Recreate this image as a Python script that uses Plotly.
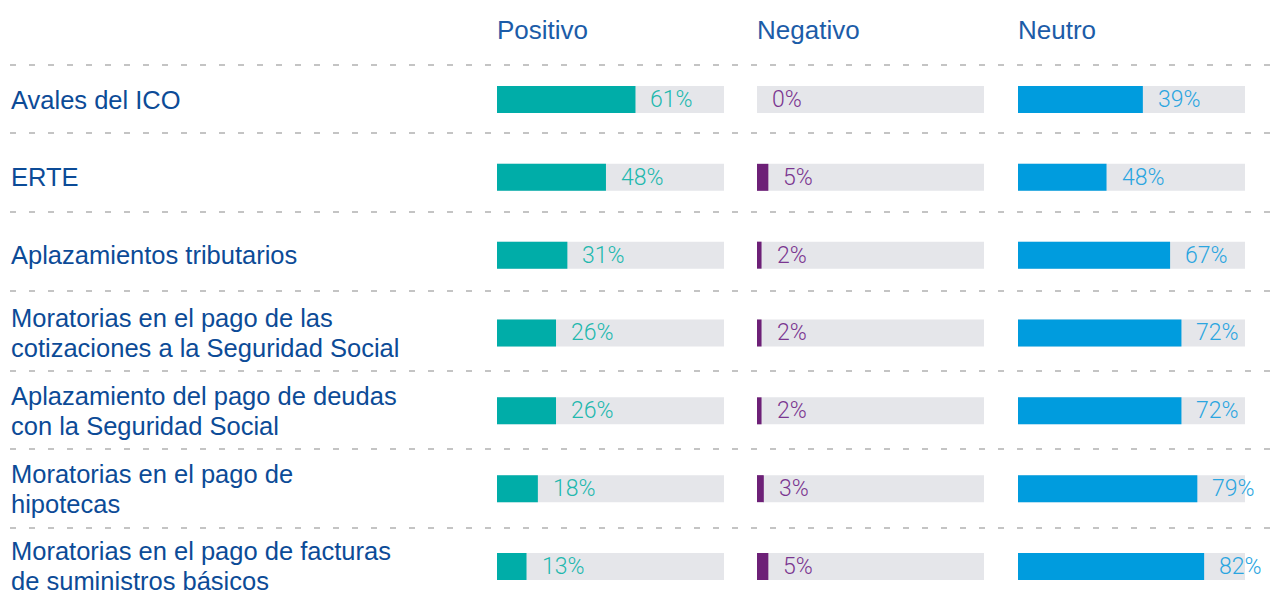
import plotly.graph_objects as go

# data
temas = [
    "Avales del ICO",
    "ERTE",
    "Aplazamientos tributarios",
    "Moratorias en el pago de las<br>cotizaciones a la Seguridad Social",
    "Aplazamiento del pago de deudas<br>con la Seguridad Social",
    "Moratorias en el pago de<br>hipotecas",
    "Moratorias en el pago de facturas<br>de suministros básicos",
]
positivo = [61, 48, 31, 26, 26, 18, 13]
negativo = [0, 5, 2, 2, 2, 3, 5]
neutro = [39, 48, 67, 72, 72, 79, 82]
# the first two neutral bars in the original are drawn at a different length than their labels
neutro_barra = [55, 39, 67, 72, 72, 79, 82]
columnas = ["Positivo", "Negativo", "Neutro"]

W, H = 1283, 602
OFF = 8                             # page body margin
ROW0, PASO = 99.5 - OFF, 77.83      # pixel centre of first row, row spacing
filas = list(range(len(temas)))

gris = "#e5e6ea"
azul_texto = "#0c4b97"
panels = [
    # (xaxis, pixel span, bar values, label values, bar colour, label colour)
    ("x", (497, 724), positivo, positivo, "#00ada8", "#22b8ae"),
    ("x2", (757, 984), negativo, negativo, "#6d2077", "#7a3590"),
    ("x3", (1018, 1245), neutro_barra, neutro, "#009cde", "#2aa5e0"),
]

fig = go.Figure()
ann = []
for xa, (p0, p1), barras, etiquetas, color, color_txt in panels:
    fig.add_trace(go.Bar(x=[100] * len(filas), y=filas, orientation="h", width=0.347,
                         marker=dict(color=gris, line_width=0), xaxis=xa, yaxis="y",
                         hoverinfo="skip", showlegend=False))
    fig.add_trace(go.Bar(x=barras, y=filas, orientation="h", width=0.347,
                         marker=dict(color=color, line_width=0), xaxis=xa, yaxis="y",
                         showlegend=False))
    for i, (b, v) in enumerate(zip(barras, etiquetas)):
        ann.append(dict(x=b, y=i, xref=xa, yref="y", text=f"{v}%", showarrow=False,
                        xanchor="left", yanchor="middle", xshift=13,
                        font=dict(family="Roboto", weight=300, size=23, color=color_txt)))

# column headers
for (xa, (p0, p1), *_), nombre in zip(panels, columnas):
    ann.append(dict(x=(p0 - OFF) / W, y=1 - (30 - OFF) / H, xref="paper", yref="paper",
                    text=nombre, showarrow=False, xanchor="left", yanchor="middle", xshift=-2,
                    font=dict(family="Liberation Sans", size=26, color="#1c5ca8")))

# row labels, one annotation per line (tighter line spacing than <br>)
for i, t in enumerate(temas):
    lineas = t.split("<br>")
    for k, linea in enumerate(lineas):
        ann.append(dict(x=(11 - OFF) / W, y=i, xref="paper", yref="y", text=linea,
                        showarrow=False, xanchor="left", yanchor="middle", xshift=-2,
                        yshift=15 * (len(lineas) - 1) - 30 * k,
                        font=dict(family="Liberation Sans", size=25.5, color=azul_texto)))

# dashed separators (pixel rows in the page)
sep_px = [65, 133, 212, 291, 371, 449, 528]
shapes = [dict(type="line", xref="paper", yref="paper", x0=(10 - OFF) / W, x1=(1275 - OFF) / W,
               y0=1 - (p - OFF) / H, y1=1 - (p - OFF) / H,
               line=dict(color="#c4c4c4", width=2, dash="6px,13px")) for p in sep_px]

layout = dict(
    width=W, height=H,
    margin=dict(l=0, r=0, t=0, b=0),
    paper_bgcolor="white", plot_bgcolor="white",
    barmode="overlay",
    annotations=ann, shapes=shapes,
    yaxis=dict(range=[(H - ROW0) / PASO, -ROW0 / PASO], visible=False, fixedrange=True),
)
for xa, (p0, p1), *_ in panels:
    key = "xaxis" if xa == "x" else "xaxis" + xa[1:]
    layout[key] = dict(domain=[(p0 - OFF) / W, (p1 - OFF) / W], range=[0, 100],
                       visible=False, anchor="y", fixedrange=True)
fig.update_layout(**layout)

fig.write_html("out.html", config={"displayModeBar": False})
